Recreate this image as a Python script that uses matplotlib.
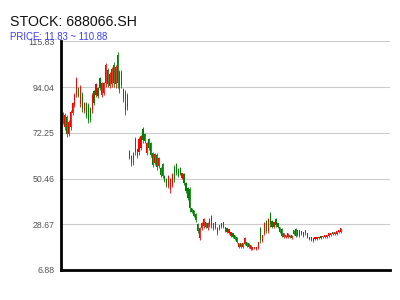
import matplotlib
matplotlib.use("Agg")
import matplotlib.pyplot as plt

# ---- data ----
title_text = "STOCK: 688066.SH"
subtitle_text = "PRICE: 11.83 ~ 110.88"
price_min = 11.83
price_max = 110.88
y_ticks = [6.88, 28.67, 50.46, 72.25, 94.04, 115.83]

opens = [81.6, 74.8, 79.8, 71.9, 75.0, 81.7, 85.6, 90.7, 93.6, 86.2,
         90.8, 82.5, 86.2, 85.6, 83.9, 83.1, 92.0, 90.3, 93.6, 98.3,
         90.4, 91.2, 95.8, 102.2, 94.7, 95.5, 104.8, 95.3, 109.2, 92.9,
         101.3, 93.0, 82.6, 90.4,
         63.7, 61.2, 57.9, 63.0, 64.6, 63.0, 65.2, 74.3, 71.7, 62.6,
         69.2, 67.2, 62.5, 57.9, 61.9, 56.4, 55.5, 57.2, 51.9, 50.4,
         46.9, 44.8, 47.5, 56.2, 57.3, 55.2, 55.6, 50.7, 52.6, 48.4,
         45.9, 45.3, 36.3, 35.3, 33.7, 28.9, 22.2, 26.7, 27.7, 29.6,
         26.7, 28.1, 27.9, 29.1, 29.6, 27.1, 26.4, 27.4, 29.6, 25.5,
         26.8, 24.5, 23.1, 24.4, 23.5, 22.4, 17.9, 19.7, 17.9, 19.5,
         20.2, 19.7, 16.9, 16.7, 17.2, 16.7, 17.5, 26.7, 20.9, 24.6,
         30.2, 25.7, 33.9, 30.4, 27.4, 31.4, 29.2, 27.2, 26.6, 22.6,
         22.5, 22.6, 23.6, 22.1, 25.9, 26.6, 23.6, 25.8, 24.0, 23.1,
         24.1, 22.6, 21.5, 22.5, 22.1, 21.5, 21.5, 21.9, 23.1, 22.4,
         22.5, 22.5, 23.0, 23.4, 25.0, 23.9, 24.0, 24.8, 25.0]
highs = [82.2, 81.7, 80.8, 78.4, 83.2, 87.0, 91.2, 98.9, 94.1, 95.1,
         91.7, 87.0, 87.0, 86.5, 84.6, 91.2, 92.7, 96.0, 94.1, 98.9,
         96.5, 96.5, 105.5, 103.1, 101.2, 103.6, 106.0, 104.6, 110.88, 102.2,
         102.2, 93.6, 92.7, 91.2,
         64.1, 61.7, 63.2, 70.3, 65.1, 70.3, 71.3, 75.1, 72.2, 67.9,
         69.8, 67.9, 63.2, 62.7, 62.7, 60.8, 56.0, 57.9, 52.2, 50.8,
         52.2, 50.8, 53.2, 57.0, 57.9, 55.6, 56.0, 53.2, 53.2, 48.9,
         46.5, 46.5, 36.5, 35.6, 34.1, 29.4, 27.5, 29.9, 31.8, 29.9,
         29.9, 31.8, 33.2, 29.4, 29.9, 27.5, 28.4, 29.4, 29.9, 27.5,
         27.0, 26.5, 25.1, 24.6, 23.7, 22.7, 19.9, 19.9, 19.9, 22.7,
         20.4, 19.9, 18.9, 18.0, 18.0, 18.0, 20.4, 27.5, 23.7, 29.9,
         30.8, 31.8, 34.6, 30.8, 29.9, 31.8, 29.4, 27.5, 27.0, 24.6,
         23.7, 24.6, 23.7, 23.7, 26.1, 27.0, 26.1, 26.1, 25.6, 25.1,
         26.1, 24.6, 22.7, 22.7, 22.3, 22.7, 22.7, 22.7, 23.2, 23.2,
         23.7, 23.7, 24.6, 24.6, 25.1, 25.1, 25.6, 26.1, 27.0]
lows = [76.5, 73.6, 70.3, 70.8, 73.6, 80.8, 84.6, 89.3, 89.3, 84.6,
        82.2, 81.7, 79.4, 77.0, 77.4, 81.7, 85.5, 89.3, 88.9, 92.7,
        89.3, 90.3, 94.1, 94.1, 93.6, 94.1, 94.1, 93.6, 93.6, 91.2,
        93.6, 87.0, 80.8, 83.2,
        59.8, 56.5, 57.0, 61.7, 60.3, 61.7, 64.1, 67.5, 67.5, 61.7,
        64.1, 60.8, 56.0, 57.0, 54.6, 55.6, 51.3, 50.8, 48.9, 46.5,
        46.0, 43.7, 46.5, 48.9, 52.2, 51.3, 52.2, 50.3, 47.5, 43.7,
        40.3, 34.6, 34.1, 32.2, 29.9, 24.6, 21.3, 26.1, 27.0, 27.0,
        26.1, 27.5, 27.0, 26.1, 26.5, 23.7, 26.1, 27.0, 27.0, 25.1,
        24.6, 24.2, 22.7, 22.3, 21.3, 19.9, 17.5, 17.5, 17.5, 18.9,
        18.0, 17.5, 16.5, 16.5, 17.0, 16.5, 17.0, 19.9, 20.4, 23.7,
        24.6, 24.6, 27.5, 27.0, 27.0, 27.5, 27.0, 24.6, 22.7, 22.3,
        22.3, 22.3, 22.3, 21.8, 23.7, 22.7, 23.2, 22.7, 23.7, 22.7,
        23.7, 22.3, 21.3, 20.8, 20.4, 21.3, 21.3, 21.8, 21.8, 22.3,
        22.3, 22.3, 22.7, 23.2, 23.7, 23.7, 23.7, 24.6, 24.6]
closes = [77.4, 80.9, 71.9, 77.6, 82.2, 86.4, 90.5, 97.9, 90.0, 94.0,
          83.6, 86.5, 80.5, 78.4, 78.5, 90.3, 86.6, 95.3, 89.7, 93.6,
          95.8, 95.9, 104.4, 95.5, 100.4, 102.7, 95.9, 103.5, 96.2, 101.1,
          94.9, 88.0, 91.5, 84.4,
          60.4, 57.3, 62.6, 69.4, 61.0, 69.4, 70.6, 68.6, 68.2, 67.3,
          65.0, 61.9, 57.1, 62.1, 55.8, 60.3, 52.0, 51.9, 49.4, 47.1,
          51.6, 50.1, 52.5, 50.1, 53.1, 51.9, 52.8, 52.9, 48.4, 44.5,
          41.2, 36.4, 34.5, 32.7, 30.5, 25.3, 26.9, 29.5, 31.3, 27.4,
          29.5, 31.4, 32.6, 26.6, 27.0, 24.3, 28.2, 29.2, 27.4, 27.3,
          25.0, 26.3, 24.9, 22.6, 21.7, 20.3, 19.7, 17.9, 19.7, 22.3,
          18.4, 17.9, 18.7, 17.9, 17.9, 17.9, 20.1, 21.0, 23.4, 29.3,
          25.5, 31.1, 28.6, 27.6, 29.6, 28.1, 27.4, 25.0, 23.3, 24.4,
          23.6, 24.4, 22.5, 23.5, 24.1, 23.3, 25.8, 23.2, 25.4, 24.9,
          25.9, 24.4, 22.6, 21.1, 20.7, 22.6, 22.6, 22.6, 22.0, 23.1,
          23.6, 23.6, 24.4, 24.5, 23.9, 25.0, 25.4, 26.0, 26.8]

# ---- styling ----
UP = "#ff0000"
DOWN = "#008000"
FONT = ["Liberation Sans", "DejaVu Sans"]

fig = plt.figure(figsize=(4, 3), dpi=100)
fig.patch.set_facecolor("white")
ax = fig.add_axes([0.1525, 0.1, 0.822, 0.762])

n = len(opens)
xs = list(range(n))
colors = [UP if c >= o else DOWN for o, c in zip(opens, closes)]
bottoms = [min(o, c) for o, c in zip(opens, closes)]
heights = [max(abs(c - o), 0.3) for o, c in zip(opens, closes)]

ax.vlines(xs, lows, highs, colors=colors, linewidth=0.6, zorder=3)
ax.bar(xs, heights, bottom=bottoms, width=0.6, color=colors, linewidth=0, zorder=3)

pad = (price_max - price_min) * 0.05
ax.set_ylim(price_min - pad, price_max + pad)
ax.set_xlim(-0.9, n - 1 + 25.2)

ax.set_yticks(y_ticks)
ax.set_yticklabels([f"{v:.2f}" for v in y_ticks], fontsize=6.3, color="#555555", family=FONT)
ax.set_xticks([])
ax.tick_params(axis="y", length=0, pad=4.5)
ax.yaxis.grid(True, color="#cccccc", linewidth=0.8, zorder=0)
ax.set_axisbelow(True)

for s in ["top", "right"]:
    ax.spines[s].set_visible(False)
for s in ["left", "bottom"]:
    ax.spines[s].set_linewidth(2)
    ax.spines[s].set_color("black")
    ax.spines[s].set_zorder(5)

fig.text(10 / 400, 1 - 26 / 300, title_text, fontsize=10.2, color="#111111",
         family=FONT, va="baseline", ha="left")
fig.text(10 / 400, 1 - 40 / 300, subtitle_text, fontsize=6.9, color="#3b3bff",
         family=FONT, va="baseline", ha="left", zorder=10)

fig.savefig("out.png", dpi=100)
